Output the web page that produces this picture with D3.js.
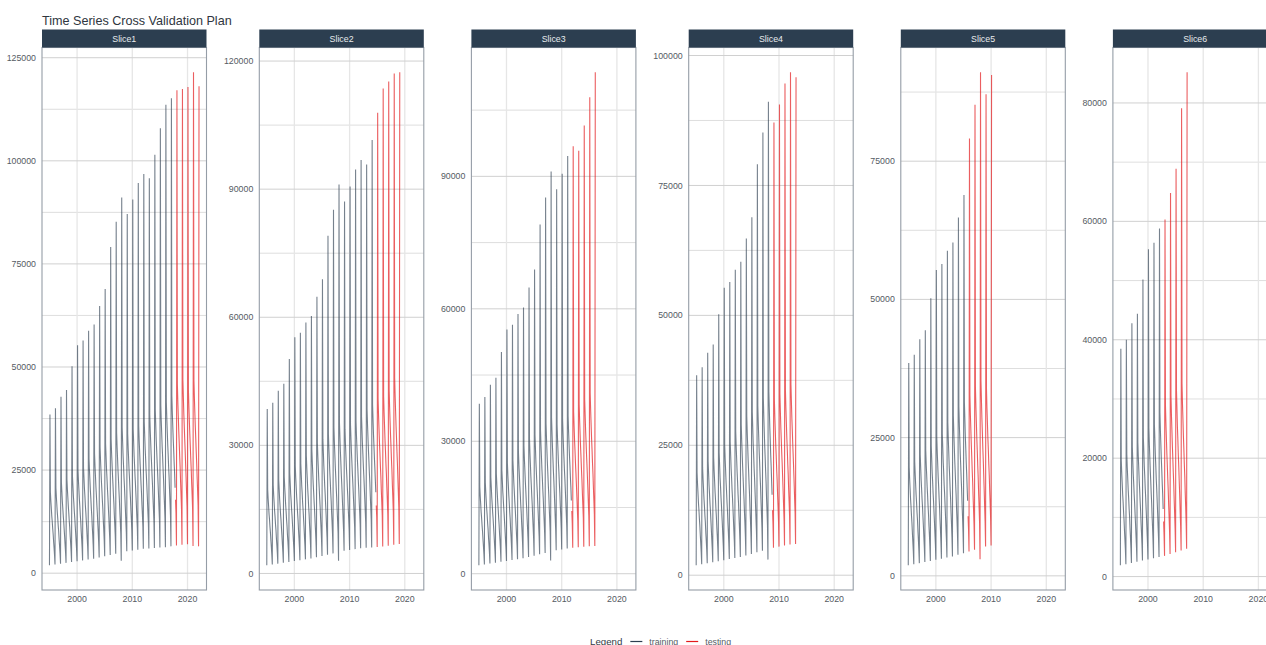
<!DOCTYPE html>
<html>
<head>
<meta charset="utf-8">
<script src="https://cdn.jsdelivr.net/npm/d3@7"></script>
<style>
  html, body { margin: 0; padding: 0; background: #ffffff; }
  svg { display: block; font-family: "Liberation Sans", Arial, Helvetica, sans-serif; }
</style>
</head>
<body>
<svg id="chart" width="1266" height="645"></svg>
<script>
// Monthly observations, one row per year (Jan..Dec); the last year stops in February.
const years = [1995, 1996, 1997, 1998, 1999, 2000, 2001, 2002, 2003, 2004, 2005, 2006, 2007, 2008,
               2009, 2010, 2011, 2012, 2013, 2014, 2015, 2016, 2017, 2018, 2019, 2020, 2021, 2022];
const monthlyValues = [
  [1900, 38500, 19700, 17500, 15800, 13900, 12600, 10900, 9500, 7700, 6100, 4400],
  [2100, 40000, 20700, 18400, 16600, 14700, 13300, 11500, 10100, 8100, 6500, 4700],
  [2300, 42800, 21900, 19600, 17400, 15700, 13900, 12400, 10500, 8800, 6800, 5000],
  [2500, 44400, 22700, 20200, 18300, 16200, 14600, 12700, 11100, 9000, 7300, 5300],
  [2700, 50200, 23500, 21100, 18700, 17000, 15000, 13400, 11400, 9600, 7500, 5600],
  [2900, 55300, 25100, 22300, 20200, 17900, 16200, 14100, 12400, 10100, 8200, 6000],
  [3100, 56400, 25700, 23100, 20600, 18700, 16500, 14800, 12700, 10700, 8400, 6400],
  [3300, 58800, 27700, 24700, 22400, 19900, 18000, 15700, 13900, 11400, 9300, 6900],
  [3500, 60300, 29000, 25900, 23500, 20900, 18900, 16600, 14600, 12100, 9900, 7400],
  [3800, 64800, 30600, 27300, 24800, 22100, 20000, 17600, 15500, 12800, 10500, 7900],
  [4100, 68900, 31400, 28300, 25300, 23000, 20500, 18400, 15900, 13600, 10800, 8400],
  [4400, 79100, 32600, 29200, 26600, 23800, 21600, 19000, 16900, 14100, 11700, 9000],
  [4700, 85200, 34100, 30600, 27800, 24900, 22600, 20000, 17700, 14800, 12300, 9500],
  [3000, 91100, 35300, 31800, 28600, 26000, 23200, 20900, 18100, 15500, 12500, 9800],
  [5300, 87100, 33800, 30400, 27800, 25000, 22900, 20300, 18200, 15400, 13000, 10300],
  [5500, 90600, 34900, 31600, 28500, 26100, 23500, 21300, 18700, 16200, 13400, 10800],
  [5700, 94600, 35700, 32200, 29500, 26600, 24400, 21700, 19500, 16600, 14200, 11400],
  [5900, 96800, 36700, 33300, 30200, 27700, 25000, 22700, 20100, 17500, 14600, 12000],
  [6000, 95800, 38400, 34700, 31800, 28800, 26400, 23600, 21200, 18200, 15500, 12600],
  [6100, 101500, 39500, 35900, 32500, 29800, 27000, 24500, 21700, 19000, 15900, 13100],
  [6200, 107900, 40800, 36900, 33800, 30600, 28100, 25100, 22600, 19400, 16600, 13500],
  [6300, 113600, 41500, 37600, 34500, 31200, 28700, 25700, 23200, 20000, 17100, 14000],
  [6500, 115200, 43000, 38900, 35700, 32400, 29800, 26700, 24100, 20700, 17800, 14600],
  [6700, 117100, 45900, 41500, 38100, 34600, 31700, 28500, 25600, 22100, 18900, 15500],
  [6900, 117400, 46900, 42700, 38800, 35600, 32400, 29500, 26200, 23000, 19500, 16200],
  [7000, 117900, 44500, 40400, 37100, 33800, 31100, 28000, 25400, 22000, 19100, 15800],
  [6600, 121500, 46700, 42400, 38900, 35400, 32600, 29400, 26600, 23000, 19900, 16500],
  [6500, 118100]
];

// Resampling plan: cumulative training windows, fixed-length testing windows.
const sliceLabels = ["Slice1", "Slice2", "Slice3", "Slice4", "Slice5", "Slice6"];
const assessmentMonths = 52;
const skipMonths = 36;

// Axis tick labels.
const xTickYears = [2000, 2010, 2020];
const yTickValues = [
  [0, 25000, 50000, 75000, 100000, 125000],
  [0, 30000, 60000, 90000, 120000],
  [0, 30000, 60000, 90000],
  [0, 25000, 50000, 75000, 100000],
  [0, 25000, 50000, 75000],
  [0, 20000, 40000, 60000, 80000]
];

const chartTitle = "Time Series Cross Validation Plan";
const legendTitle = "Legend";
const legendKeys = ["training", "testing"];
const keyColors = { training: "#2c3e50", testing: "#e31a1c" };

// ---- series ----
const series = [];
years.forEach((yr, i) => {
  monthlyValues[i].forEach((v, m) => series.push({ date: new Date(Date.UTC(yr, m, 1)), value: v }));
});
const n = series.length;

const slices = sliceLabels.map((label, k) => {
  const endIdx = n - 1 - skipMonths * k;
  const startIdx = endIdx - assessmentMonths + 1;
  return {
    label,
    training: series.slice(0, startIdx),
    testing: series.slice(startIdx, endIdx + 1)
  };
});

// ---- layout ----
const svg = d3.select("#chart");
const W = 1266, H = 645;
const stripTop = 29.5, stripH = 18;
const panelTop = stripTop + stripH, panelBottom = 590;
const panelW = 164.5;
const firstLeft = 42;
const axisFont = 8.8;
const axisColor = "#555b63";

// shared x scale domain (5% expansion on both sides)
const tExt = d3.extent(series, d => d.date);
const tSpan = tExt[1] - tExt[0];
const xDomain = [new Date(+tExt[0] - 0.05 * tSpan), new Date(+tExt[1] + 0.05 * tSpan)];

svg.append("rect").attr("width", W).attr("height", H).attr("fill", "#ffffff");

svg.append("text")
  .attr("x", firstLeft).attr("y", 24.5)
  .attr("font-size", 12.6).attr("fill", "#2f3640")
  .text(chartTitle);

let left = firstLeft;
slices.forEach((s, k) => {
  const ticks = yTickValues[k];
  const maxChars = d3.max(ticks, t => String(t).length);
  if (k > 0) left += 47.6 + 5.2 * (maxChars - 5);

  const x = d3.scaleUtc().domain(xDomain).range([left, left + panelW]);
  const all = s.training.concat(s.testing);
  const yExt = d3.extent(all, d => d.value);
  const pad = 0.05 * (yExt[1] - yExt[0]);
  const y = d3.scaleLinear().domain([yExt[0] - pad, yExt[1] + pad]).range([panelBottom, panelTop]);

  const g = svg.append("g");
  const [y0, y1] = y.domain();

  // minor horizontal grid (midpoints between breaks)
  const step = ticks[1] - ticks[0];
  const minor = [];
  for (let i = -1; i < ticks.length; i++) {
    const mv = ticks[0] + step * (i + 0.5);
    if (mv > y0 && mv < y1) minor.push(mv);
  }
  g.selectAll(".minor").data(minor).enter().append("line")
    .attr("x1", left).attr("x2", left + panelW)
    .attr("y1", d => y(d)).attr("y2", d => y(d))
    .attr("stroke", "#d6d6d6").attr("stroke-width", 0.8);

  // vertical grid at year ticks
  const xTicks = xTickYears.map(yr => new Date(Date.UTC(yr, 0, 1)));
  g.selectAll(".vgrid").data(xTicks).enter().append("line")
    .attr("x1", d => x(d)).attr("x2", d => x(d))
    .attr("y1", panelTop).attr("y2", panelBottom)
    .attr("stroke", "#e6e6e6").attr("stroke-width", 1.3);

  // major horizontal grid
  g.selectAll(".major").data(ticks).enter().append("line")
    .attr("x1", left).attr("x2", left + panelW)
    .attr("y1", d => y(d)).attr("y2", d => y(d))
    .attr("stroke", "#d0d0d0").attr("stroke-width", 1);

  const line = d3.line().x(d => x(d.date)).y(d => y(d.value));
  g.append("path").datum(s.training).attr("d", line)
    .attr("fill", "none").attr("stroke", keyColors.training)
    .attr("stroke-width", 1.1).attr("stroke-opacity", 0.65);
  g.append("path").datum(s.testing).attr("d", line)
    .attr("fill", "none").attr("stroke", keyColors.testing)
    .attr("stroke-width", 1.1).attr("stroke-opacity", 0.7);

  // panel border
  g.append("rect")
    .attr("x", left).attr("y", panelTop)
    .attr("width", panelW).attr("height", panelBottom - panelTop)
    .attr("fill", "none").attr("stroke", "#959da7").attr("stroke-width", 1.1);

  // strip
  g.append("rect")
    .attr("x", left).attr("y", stripTop).attr("width", panelW).attr("height", stripH)
    .attr("fill", "#2c3e50");
  g.append("text")
    .attr("x", left + panelW / 2).attr("y", stripTop + stripH / 2)
    .attr("dy", "0.35em").attr("text-anchor", "middle")
    .attr("font-size", axisFont).attr("fill", "#e8ebee")
    .text(s.label);

  // y axis labels
  g.selectAll(".ylab").data(ticks).enter().append("text")
    .attr("x", left - 6).attr("y", d => y(d)).attr("dy", "0.35em")
    .attr("text-anchor", "end").attr("font-size", axisFont).attr("fill", axisColor)
    .text(d => d);

  // x axis labels
  g.selectAll(".xlab").data(xTicks).enter().append("text")
    .attr("x", d => x(d)).attr("y", 602)
    .attr("text-anchor", "middle").attr("font-size", axisFont).attr("fill", axisColor)
    .text(d => d.getUTCFullYear());

  left += panelW;
});

// ---- legend ----
const lg = svg.append("g");
let lx = 590;
const ly = 645;
const t0 = lg.append("text").attr("x", lx).attr("y", ly).attr("font-size", 9.7).attr("fill", "#333a44").text(legendTitle);
lx += t0.node().getComputedTextLength() + 8;
legendKeys.forEach(key => {
  lg.append("line").attr("x1", lx).attr("x2", lx + 12).attr("y1", ly - 3.5).attr("y2", ly - 3.5)
    .attr("stroke", keyColors[key]).attr("stroke-width", 1.2);
  lx += 19;
  const t = lg.append("text").attr("x", lx).attr("y", ly).attr("font-size", axisFont).attr("fill", axisColor).text(key);
  lx += t.node().getComputedTextLength() + 8;
});
</script>
</body>
</html>
